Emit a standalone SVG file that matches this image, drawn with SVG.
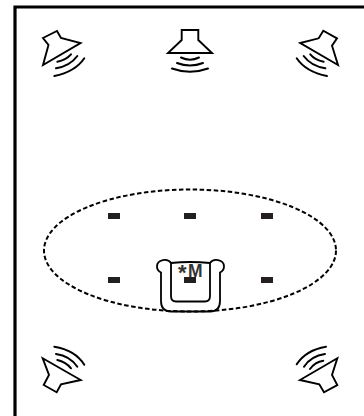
<svg xmlns="http://www.w3.org/2000/svg" width="364" height="416" viewBox="0 0 364 416">
<style>
.spk{fill:none;stroke:#000;stroke-width:1.900;stroke-linejoin:miter}
.wave{fill:none;stroke:#000;stroke-width:2;stroke-linecap:round}
.pos{fill:#231f20}
</style>
<rect width="364" height="416" fill="#fff"/>
<g id="frame"><path d="M15 416V7H364" fill="none" stroke="#000" stroke-width="3.200"/></g>
<g id="listening-area"><ellipse cx="190" cy="250.500" rx="146" ry="61" fill="none" stroke="#000" stroke-width="2" stroke-dasharray="4.500 2.500"/></g>
<g id="speaker-front-left">
<path class="spk" d="M43 38L57 31L61 38L80.500 43L43 65L48.500 45Z"/>
<path class="wave" d="M54.300 76Q75 72 84.300 58.300M56 68.300Q70 66 77.300 56M57.300 61.700Q66 60 71 54.300"/>
</g>
<g id="speaker-center">
<path class="spk" d="M181.700 30H198.300V40L212 53H168L181.700 40Z"/>
<path class="wave" d="M181 57.500Q190 62 199 57.500M177 63Q190 68 203 63M172 68.500Q190 75 208 68.500"/>
</g>
<g id="speaker-front-right">
<path class="spk" d="M300.300 43L318.700 38.300L323.300 30.700L337 38.300L332 45.700L338 65Z"/>
<path class="wave" d="M327 76Q306 72 296.700 58.300M325.300 68.300Q311 66 303.700 56M323.700 61.700Q315 60 310.300 54.300"/>
</g>
<g id="speaker-rear-left">
<path class="spk" d="M42.700 358.300L80.700 380L61 384.300L56.700 392.300L43.700 385L49 375Z"/>
<path class="wave" d="M54.300 346.700Q75 350 84.300 364.700M56 354Q70 356 77.300 366.700M57.300 360Q66 362 71 368.300"/>
</g>
<g id="speaker-rear-right">
<path class="spk" d="M337.300 358.300L300 380L319.300 384.300L324 392.300L337.300 385L332 375Z"/>
<path class="wave" d="M326 346.700Q306 350 296.700 364.300M325 354Q311 356 304 366.700M323.300 360.700Q315 362 310 369"/>
</g>
<g id="chair">
<path d="M171 263V296Q171 301.500 176 301.500H205Q210 301.500 210 296V263Q190 261 171 263Z" fill="none" stroke="#000" stroke-width="1.800"/>
<path d="M171 263C168 258 157 259 157 266.500C157 270 159 271.500 161 272.500V301Q161 311.500 171 311.500H210Q220 311.500 220 301V272.500C222 271.500 224 270 224 266.500C224 259 213 258 210 263" fill="none" stroke="#000" stroke-width="1.800"/>
<text font-family="Liberation Sans, Arial, sans-serif" font-weight="700" fill="#333"><tspan x="178" y="280" font-size="22">*</tspan><tspan x="188" y="276.500" font-size="17.500">M</tspan></text>
</g>
<g id="positions">
<rect class="pos" x="108" y="213" width="12" height="6"/>
<rect class="pos" x="184" y="213" width="12" height="6"/>
<rect class="pos" x="261" y="213" width="12" height="6"/>
<rect class="pos" x="108" y="277" width="12" height="6"/>
<rect class="pos" x="184" y="277" width="12" height="6"/>
<rect class="pos" x="261" y="277" width="12" height="6"/>
</g>
</svg>
